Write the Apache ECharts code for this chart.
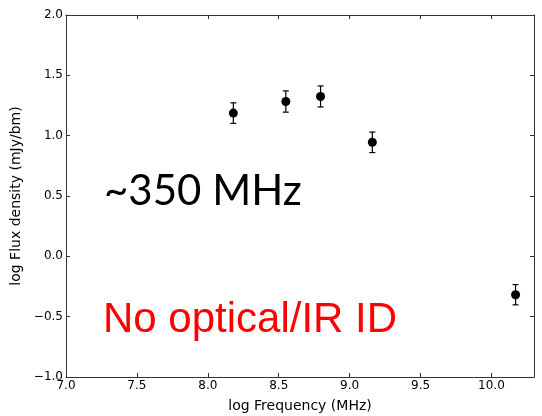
<!DOCTYPE html>
<html>
<head>
<meta charset="utf-8">
<script src="https://cdn.jsdelivr.net/npm/echarts@6/dist/echarts.min.js"></script>
<style>
  html, body { margin: 0; padding: 0; background: #fff; }
  #chart { width: 542px; height: 416px; }
</style>
</head>
<body>
<div id="chart"></div>
<script>
// log frequency (MHz) and log flux density (mJy/bm)
const logFreq = [8.18, 8.55, 8.795, 9.16, 10.17];
const logFlux = [1.187, 1.283, 1.325, 0.945, -0.318];
const fluxErr = [0.085, 0.088, 0.087, 0.085, 0.084];

const xTicks = [7.0, 7.5, 8.0, 8.5, 9.0, 9.5, 10.0];
const yTicks = [-1.0, -0.5, 0.0, 0.5, 1.0, 1.5, 2.0];

const points = logFreq.map((x, i) => [x, logFlux[i]]);
const bars = logFreq.map((x, i) => [x, logFlux[i] - fluxErr[i], logFlux[i] + fluxErr[i]]);

const axisColor = '#333';
const fmt = v => v.toFixed(1).replace('-', '\u2212');

const chart = echarts.init(document.getElementById('chart'));

const baseX = {
  type: 'value', min: 7.0, max: 10.3, interval: 0.5,
  axisLine: { show: true, onZero: false, lineStyle: { color: axisColor, width: 1 } },
  axisTick: { show: true, inside: true, length: 4, lineStyle: { color: axisColor } },
  splitLine: { show: false }
};
const baseY = {
  type: 'value', min: -1.0, max: 2.0, interval: 0.5,
  axisLine: { show: true, onZero: false, lineStyle: { color: axisColor, width: 1 } },
  axisTick: { show: true, inside: true, length: 4, lineStyle: { color: axisColor } },
  splitLine: { show: false }
};

chart.setOption({
  animation: false,
  grid: { left: 66, right: 8, top: 15, bottom: 39, outerBoundsMode: 'none', containLabel: false },
  xAxis: [
    Object.assign({}, baseX, {
      position: 'bottom',
      name: 'log Frequency (MHz)',
      nameLocation: 'middle',
      nameGap: 22,
      nameTextStyle: { fontFamily: 'DejaVu Sans', fontSize: 14, color: '#000' },
      axisLabel: {
        margin: 3, fontFamily: 'DejaVu Sans', fontSize: 12, color: '#000',
        formatter: v => xTicks.includes(v) ? fmt(v) : ''
      }
    }),
    Object.assign({}, baseX, { position: 'top', axisLabel: { show: false } })
  ],
  yAxis: [
    Object.assign({}, baseY, {
      position: 'left',
      name: 'log Flux density (mJy/bm)',
      nameLocation: 'middle',
      nameGap: 35,
      nameTextStyle: { fontFamily: 'DejaVu Sans', fontSize: 14, color: '#000' },
      axisLabel: {
        margin: 3, fontFamily: 'DejaVu Sans', fontSize: 12, color: '#000',
        formatter: v => yTicks.includes(v) ? fmt(v) : ''
      }
    }),
    Object.assign({}, baseY, { position: 'right', axisLabel: { show: false } })
  ],
  series: [
    {
      type: 'custom',
      data: bars,
      renderItem: function (params, api) {
        const x = api.value(0);
        const lo = api.coord([x, api.value(1)]);
        const hi = api.coord([x, api.value(2)]);
        const cap = 3;
        const style = { stroke: '#000', lineWidth: 1.2 };
        return {
          type: 'group',
          children: [
            { type: 'line', shape: { x1: lo[0], y1: lo[1], x2: hi[0], y2: hi[1] }, style: style },
            { type: 'line', shape: { x1: lo[0] - cap, y1: lo[1], x2: lo[0] + cap, y2: lo[1] }, style: style },
            { type: 'line', shape: { x1: hi[0] - cap, y1: hi[1], x2: hi[0] + cap, y2: hi[1] }, style: style }
          ]
        };
      },
      z: 2
    },
    {
      type: 'scatter',
      data: points,
      symbol: 'circle',
      symbolSize: 9,
      itemStyle: { color: '#000', opacity: 1 },
      z: 3
    }
  ],
  graphic: [
    {
      type: 'text', left: 104, top: 170,
      style: { text: '~350 MHz', font: '42px Lato', fill: '#000' }
    },
    {
      type: 'text', left: 103, top: 299,
      style: { text: 'No optical/IR ID', font: '42px "Liberation Sans"', fill: '#ff0000' }
    }
  ]
});
</script>
</body>
</html>
